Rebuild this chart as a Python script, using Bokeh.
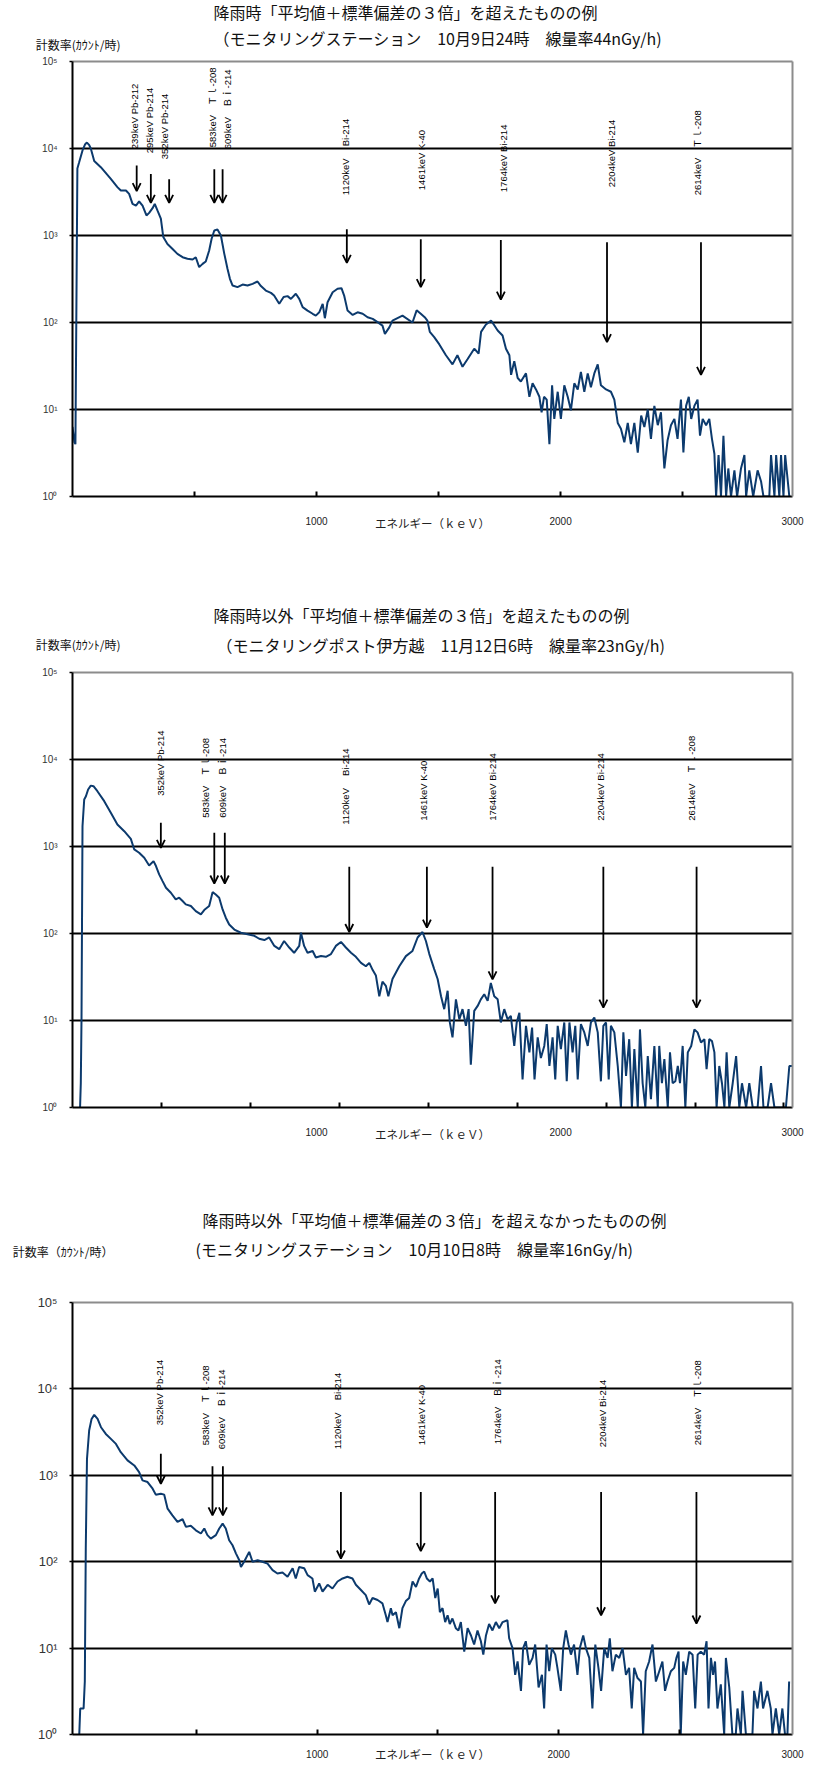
import math
from bokeh.plotting import figure
from bokeh.models import Range1d, FixedTicker, Arrow, OpenHead, ColumnDataSource, LinearAxis
from bokeh.layouts import column
from bokeh.embed import file_html
from bokeh.resources import INLINE
from bokeh.core.properties import value

JP = "Noto Sans CJK JP"
LAT = "Liberation Sans, Noto Sans CJK JP"
NAVY = "#0c3a6d"
GRAY = "#8c8c8c"
BL, BR = 72, 12          # left / right borders shared by every figure of the column

# ---------------- shared axis texts ----------------
x_tick_labels = ["1000", "2000", "3000"]
y_tick_values = [1, 10, 100, 1000, 10000, 100000]
y_tick_labels = ["10⁰", "10¹", "10²", "10³", "10⁴", "10⁵"]
x_axis_title = "エネルギー（ｋｅＶ）"

# ---------------- panel 1 ----------------
title_1 = ["降雨時「平均値＋標準偏差の３倍」を超えたものの例",
           "（モニタリングステーション　10月9日24時　線量率44nGy/h)"]
y_title_1 = "計数率(ｶｳﾝﾄ/時)"
energy_1 = [0, 8, 12, 20, 27, 41, 52, 59, 68, 75, 89, 116, 157, 184, 198, 219, 232, 246, 260, 273,
            287, 303, 314, 328, 337, 348, 362, 372, 389, 410, 430, 451, 471, 492, 505, 519, 533, 546, 560, 570,
            581, 594, 608, 622, 635, 645, 656, 676, 697, 717, 738, 758, 772, 792, 813, 826, 847, 865, 881, 895,
            915, 929, 943, 963, 984, 997, 1011, 1025, 1034, 1045, 1066, 1086, 1102, 1113, 1127, 1148, 1168, 1189, 1209, 1230,
            1250, 1270, 1280, 1298,
            1311, 1352, 1393, 1410, 1427, 1443, 1454, 1464, 1482, 1503, 1530, 1557, 1577, 1598, 1619, 1646, 1664, 1674, 1694, 1715,
            1728, 1742, 1762, 1776, 1790, 1797, 1810, 1824, 1837, 1858, 1872, 1885, 1899, 1913, 1922, 1932, 1943, 1954, 1965, 1974,
            1988, 2001, 2015, 2029, 2042, 2056, 2070, 2083, 2097, 2111, 2124, 2138, 2152, 2165, 2186, 2206, 2220, 2234, 2247, 2261,
            2275, 2288, 2302, 2316, 2330, 2343, 2357, 2370, 2384, 2398, 2411, 2425, 2438, 2452, 2466, 2479, 2493, 2503, 2514, 2525,
            2535, 2548, 2561, 2571, 2582, 2596, 2609, 2620, 2630, 2637, 2647, 2657, 2667, 2678, 2687, 2698, 2712, 2723, 2739, 2753,
            2760, 2773, 2789, 2807, 2821, 2831, 2855, 2862, 2876, 2883, 2896, 2903, 2913, 2920, 2937]
counts_1 = [6.3, 4.2, 4, 5900, 6900, 9500, 11200, 11700, 11000, 10000, 7200, 6100, 4480, 3600, 3290, 3290, 3010, 2310, 2210, 2460,
            2210, 1700, 1820, 2060, 2310, 1940, 1560, 960, 800, 700, 615, 563, 540, 530, 563, 433, 472, 503, 672, 916,
            1140, 1170, 1000, 615, 414, 318, 266, 255, 273, 266, 278, 296, 262, 233, 219, 204, 164, 196, 201, 187,
            214, 187, 150, 137, 126, 120, 131, 164, 112, 171, 223, 244, 248, 204, 137, 122, 131, 126, 115, 110,
            101, 92, 74, 88,
            105, 120, 100, 138, 126, 115, 105, 78, 68, 56, 42, 33, 42, 31, 38, 50, 44, 78, 95, 105,
            93, 81, 71, 50, 42, 25, 36, 23, 21, 26, 14, 20, 17, 14, 9.3, 14, 13, 4, 19, 7.8,
            16, 7.8, 19, 14, 9.8, 20, 17, 27, 16, 26, 18, 26, 33, 19, 17, 16, 13, 7, 6, 4.2,
            7, 4, 7, 3.2, 8.5, 6.3, 10, 4.6, 11, 6.6, 9.3, 2.1, 4.4, 6.6, 7.8, 4.6, 13, 3.2, 11, 14,
            7.8, 11, 13, 5, 7.8, 6.6, 7.8, 4.6, 3.1, 1, 3, 1, 5, 1, 2.1, 1, 2, 1, 2.1, 3,
            1, 2, 1, 2, 1.5, 1, 1, 3, 1, 3, 1, 3, 1, 3, 1]
peak_names_1 = ["239keV Pb-212", "295keV Pb-214", "352keV Pb-214", "583keV　Ｔｌ-208", "609keV　Ｂｉ-214",
                "1120keV　 Bi-214", "1461keV K-40", "1764keV Bi-214", "2204keV Bi-214", "2614keV　Ｔｌ-208"]
peak_x_1 = [263, 321, 396, 581, 615, 1124, 1427, 1755, 2190, 2575]
minor_ticks_1 = [500, 1000, 1500, 2000, 2500]
xmin_1, xmax_1 = 0, 2950
arrow_top_1 = [3.805, 3.708, 3.647, 3.762, 3.762, 3.072, 2.957, 2.949, 2.923, 2.923]
arrow_bot_1 = [3.509, 3.375, 3.375, 3.375, 3.375, 2.685, 2.406, 2.264, 1.774, 1.398]
name_x_1 = [253, 317, 376, 574, 635, 1118, 1430, 1764, 2209, 2561]
name_y_1 = [3.992, 3.946, 3.877, 4.015, 3.992, 3.463, 3.521, 3.498, 3.555, 3.463]

# ---------------- panel 2 ----------------
title_2 = ["降雨時以外「平均値＋標準偏差の３倍」を超えたものの例",
           "（モニタリングポスト伊方越　11月12日6時　線量率23nGy/h)"]
y_title_2 = "計数率(ｶｳﾝﾄ/時)"
energy_2 = [31, 34, 37, 41, 48, 55, 64, 75, 86, 102, 130, 157, 184, 212, 239, 253, 273, 294, 314, 332,
            342, 355, 369, 383, 403, 423, 437, 451, 464, 485, 505, 526, 542, 560, 574, 587, 601, 615, 628, 642,
            663, 690, 717, 745, 765, 786, 806, 827, 847, 867, 888, 908, 929, 936, 949, 963, 984, 997, 1018, 1038,
            1059, 1079, 1100, 1120, 1141, 1161, 1182, 1202, 1216, 1230, 1243, 1257, 1270, 1284, 1294,
            1311, 1339, 1366, 1393, 1414, 1434, 1448, 1462, 1482, 1496, 1510, 1523, 1537, 1546, 1557, 1571, 1585, 1598, 1612, 1623,
            1632, 1646, 1660, 1673, 1687, 1701, 1714, 1728, 1742, 1755, 1769, 1783, 1796, 1810, 1820, 1831, 1844, 1858, 1872, 1883,
            1893, 1906, 1919, 1933, 1943, 1954, 1967, 1978, 1988, 2001, 2015, 2025, 2036, 2049, 2060, 2070, 2083, 2097, 2111, 2124,
            2138, 2152, 2165, 2175, 2186, 2197, 2206, 2220, 2234, 2247, 2257, 2268, 2281, 2292, 2302, 2316, 2325, 2336, 2347, 2357,
            2370, 2384, 2398, 2404, 2415, 2425, 2439, 2448, 2459, 2470, 2480, 2489, 2500, 2511, 2521, 2535, 2548, 2561, 2575, 2589,
            2598, 2609, 2620, 2630, 2639, 2650, 2661, 2671, 2680, 2691, 2705, 2719, 2732, 2743, 2760, 2773, 2787, 2807, 2821, 2831,
            2848, 2862, 2876, 2896, 2910, 2923, 2937, 2948]
counts_2 = [1, 1.9, 11, 1710, 3470, 3780, 4520, 5010, 4930, 4320, 3320, 2440, 1790, 1500, 1225, 925, 847, 741, 606, 679,
            596, 478, 400, 336, 294, 247, 258, 236, 216, 207, 181, 166, 189, 207, 299, 281, 258, 189, 152, 127,
            111, 102, 98, 94, 87, 84, 90, 72, 66, 82, 69, 60, 72, 102, 72, 60, 63, 53, 55, 54,
            58, 72, 80, 69, 60, 54, 46, 42, 46, 38, 33, 19, 28, 25, 19,
            30, 42, 55, 63, 90, 104, 82, 58, 39, 30, 19, 13.5, 22, 9.5, 6.4, 17.5, 10.3, 13.5, 8.7, 13.5,
            3.1, 12.9, 14.7, 17.5, 20, 16.8, 27, 19, 17.5, 9.5, 13.5, 10.3, 11.3, 5.1, 9.5, 12.3, 2.1, 8.7, 4.3, 8.3,
            2.1, 6.4, 3.7, 5.1, 9.1, 3.0, 6.4, 2.1, 8.7, 4.7, 9.5, 2.0, 9.5, 4.3, 8.7, 2.1, 9.1, 7.3, 5.1, 9.5,
            10.8, 7.3, 2.0, 8.7, 9.5, 2.1, 8.7, 7.3, 3.0, 1, 7.3, 2.3, 6.1, 1, 4.7, 1, 7.9, 1.9, 1, 3.9,
            1.25, 5.1, 1, 5.1, 1.9, 3.6, 1, 4.3, 1.9, 2.0, 3.0, 1.9, 5.1, 1, 4.3, 5.1, 7.9, 7.3, 5.6, 6.1,
            2.75, 6.1, 5.8, 4.3, 1, 3.0, 1.9, 1, 4.3, 1, 1.9, 3.9, 1, 1.9, 1, 1.9, 1, 1, 3.0, 1,
            1, 1.9, 1, 1, 1, 1, 3.0, 3.0]
peak_names_2 = ["352keV Pb-214", "583keV　Ｔｌ-208", "609keV　Ｂｉ-214", "1120keV　 Bi-214",
                "1461keV K-40", "1764keV Bi-214", "2204keV Bi-214", "2614keV　Ｔｌ-208"]
peak_x_2 = [362, 581, 624, 1134, 1452, 1721, 2175, 2557]
minor_ticks_2 = [364, 729, 1093, 1458, 1822, 2186, 2551, 2915]
xmin_2, xmax_2 = 0, 2950
arrow_top_2 = [3.272, 3.157, 3.157, 2.767, 2.767, 2.767, 2.767, 2.767]
arrow_bot_2 = [2.985, 2.575, 2.575, 2.017, 2.067, 1.473, 1.148, 1.148]
name_x_2 = [361, 545, 615, 1119, 1439, 1721, 2164, 2537]
name_y_2 = [3.582, 3.330, 3.330, 3.249, 3.295, 3.295, 3.295, 3.295]

# ---------------- panel 3 ----------------
title_3 = ["降雨時以外「平均値＋標準偏差の３倍」を超えなかったものの例",
           "(モニタリングステーション　10月10日8時　線量率16nGy/h)"]
y_title_3 = "計数率（ｶｳﾝﾄ/時）"
energy_3 = [14, 18, 32, 37, 41, 46, 55, 65, 76, 90, 104, 124, 145, 166, 186, 214, 242, 262, 276, 297,
            318, 331, 352, 366, 380, 400, 421, 442, 456, 476, 497, 518, 532, 545, 559, 580, 594, 608, 621, 635,
            649, 663, 677, 684, 697, 718, 732, 753, 773, 794, 815, 835, 856, 877, 898, 911, 925, 946, 960, 980,
            990, 1008, 1022, 1043, 1063, 1084, 1105, 1125, 1146, 1160, 1181, 1201, 1215, 1229, 1250, 1270, 1284, 1291, 1305,
            1312, 1326, 1340, 1353, 1367, 1381, 1395, 1409, 1422, 1433, 1443, 1454, 1467, 1478, 1489, 1499, 1508, 1519, 1530, 1540,
            1549, 1560, 1574, 1585, 1595, 1609, 1623, 1637, 1650, 1664, 1678, 1688, 1699, 1712, 1726, 1740, 1754, 1768, 1788, 1795,
            1809, 1820, 1830, 1844, 1853, 1864, 1878, 1892, 1903, 1917, 1931, 1940, 1950, 1961, 1972, 1986, 1995, 2009, 2019, 2030,
            2041, 2051, 2064, 2078, 2088, 2102, 2113, 2127, 2140, 2152, 2165, 2176, 2189, 2203, 2212, 2223, 2237, 2251, 2265, 2279,
            2292, 2303, 2313, 2327, 2341, 2350, 2361, 2375, 2389, 2403, 2417, 2430, 2441, 2451, 2465, 2479, 2488, 2497, 2506, 2516,
            2527, 2541, 2555, 2566, 2576, 2589, 2603, 2613, 2621, 2631, 2640, 2648, 2658, 2672, 2686, 2693, 2707, 2720, 2734, 2741,
            2755, 2762, 2776, 2790, 2803, 2810, 2824, 2838, 2847, 2865, 2879, 2886, 2900, 2914, 2927, 2938, 2948, 2955]
counts_3 = [1, 2.0, 2.0, 4.1, 142, 1550, 3300, 4490, 5000, 4490, 3600, 3010, 2640, 2310, 1850, 1490, 1300, 1090, 873, 836,
            700, 597, 612, 597, 411, 344, 289, 310, 253, 260, 231, 212, 242, 203, 185, 203, 242, 276, 242, 177,
            155, 125, 104, 87, 100, 130, 100, 104, 100, 95, 80, 73, 75, 67, 84, 64, 87, 84, 70, 64,
            45, 56, 45, 54, 49, 59, 64, 67, 64, 54, 47, 41, 32, 38, 36, 33, 24, 20, 29,
            24, 26, 17, 29, 35, 38, 59, 51, 64, 73, 77, 64, 59, 64, 38, 49, 26, 29, 20, 24,
            19, 22, 17, 16, 20, 9.1, 17, 14, 11, 16, 12, 8.4, 14, 19, 16, 20, 17, 20, 21, 13,
            10, 4.9, 7, 3.2, 10, 12, 6.4, 7.7, 11, 3.5, 4.9, 2.0, 11, 5.4, 10, 8.4, 5.9, 3.2, 10, 16,
            11, 8.4, 11, 4.9, 10, 14, 10, 7.7, 2.0, 11, 5.9, 3.2, 10, 7.7, 13, 5.4, 8.4, 7.7, 10, 4.9,
            5.9, 2.0, 5.9, 4.5, 4.1, 1, 5.4, 7, 11, 4.1, 5.4, 7, 3.2, 4.1, 5.4, 5.9, 7.7, 9.1, 1, 7,
            4.9, 9.1, 8.4, 2.0, 8.4, 9.1, 8.4, 12, 2.0, 7.7, 4.9, 7, 2.0, 3.8, 1, 7.7, 3.5, 1, 1, 2.0,
            1, 3.2, 1, 1, 1, 3.2, 2.0, 4.1, 2.0, 3.2, 2.0, 1, 2.0, 1, 2.0, 1, 1, 4.1]
peak_names_3 = ["352keV Pb-214", "583keV　Ｔｌ-208", "609keV　Ｂｉ-214", "1120keV　 Bi-214",
                "1461keV K-40", "1764keV　Ｂｉ-214", "2204keV Bi-214", "2614keV　Ｔｌ-208"]
peak_x_3 = [352, 566, 609, 1098, 1429, 1737, 2176, 2571]
minor_ticks_3 = [500, 1000, 1500, 2000, 2500]
xmin_3, xmax_3 = -14, 2969
arrow_top_3 = [3.248, 3.106, 3.106, 2.806, 2.806, 2.806, 2.806, 2.806]
arrow_bot_3 = [2.902, 2.537, 2.537, 2.037, 2.122, 1.518, 1.380, 1.285]
name_x_3 = [347, 537, 604, 1084, 1432, 1747, 2182, 2575]
name_y_3 = [3.579, 3.348, 3.302, 3.302, 3.348, 3.360, 3.325, 3.348]

for e, c in ((energy_1, counts_1), (energy_2, counts_2), (energy_3, counts_3)):
    if len(e) != len(c):
        raise SystemExit("length mismatch %d %d" % (len(e), len(c)))


def header(h, items, ylabel, ylabel_y, ylabel_right):
    """Title strip: frame spans x = BL..804-BR so that data x == canvas x."""
    p = figure(width=804, height=h, output_backend="svg", toolbar_location=None, title=None,
               x_range=Range1d(BL, 804 - BR), y_range=Range1d(h, 0),
               x_axis_location=None, y_axis_location="left",
               min_border_left=BL, min_border_right=BR, min_border_top=0, min_border_bottom=0)
    p.outline_line_color = None
    p.grid.visible = False
    ya = p.yaxis[0]
    ya.ticker = FixedTicker(ticks=[ylabel_y])
    ya.major_label_overrides = {ylabel_y: ylabel}
    ya.axis_line_color = None
    ya.major_tick_line_color = None
    ya.minor_tick_line_color = None
    ya.major_tick_out = 0
    ya.major_tick_in = 0
    ya.major_label_standoff = BL - ylabel_right
    ya.major_label_text_font = JP
    ya.major_label_text_font_size = "12px"
    ya.major_label_text_color = "#111111"
    for (x, y, txt, size) in items:
        p.text(x=[x], y=[y], text=[txt], text_font=value(JP), text_font_size=size,
               text_align="left", text_baseline="middle", text_color="#111111")
    return p


def spectrum(height, top, bottom, xmin, xmax, energy, counts, minor_ticks,
             peak_x, arrow_top, arrow_bot, name_x, name_y, names,
             ytick_size, xstandoff, xlab_standoff):
    p = figure(width=804, height=height, output_backend="svg", toolbar_location=None, title=None,
               x_range=Range1d(xmin, xmax), y_range=Range1d(1, 1e5), y_axis_type="log",
               min_border_left=BL, min_border_right=BR,
               min_border_top=top, min_border_bottom=bottom)
    p.outline_line_color = None
    p.xgrid.visible = False
    p.ygrid.ticker = FixedTicker(ticks=y_tick_values[1:-1])
    p.ygrid.grid_line_color = "black"
    p.ygrid.grid_line_width = 2

    x_ticks = [1000, 2000, xmax]
    xa = p.xaxis[0]
    xa.ticker = FixedTicker(ticks=x_ticks, minor_ticks=minor_ticks)
    xa.major_label_overrides = dict(zip(x_ticks, x_tick_labels))
    xa.axis_line_color = "black"
    xa.axis_line_width = 2
    xa.major_tick_in = 0
    xa.major_tick_out = 0
    xa.minor_tick_in = 5
    xa.minor_tick_out = 0
    xa.minor_tick_line_color = "black"
    xa.minor_tick_line_width = 2
    xa.major_label_standoff = xstandoff
    xa.major_label_text_font = "Liberation Sans"
    xa.major_label_text_font_size = "10px"
    xa.major_label_text_color = "#222222"
    xa.axis_label = x_axis_title
    xa.axis_label_text_font = LAT
    xa.axis_label_text_font_size = "11.5px"
    xa.axis_label_text_font_style = "normal"
    xa.axis_label_text_color = "#222222"
    xa.axis_label_standoff = xlab_standoff

    ya = p.yaxis[0]
    ya.ticker = FixedTicker(ticks=y_tick_values)
    ya.major_label_overrides = dict(zip(y_tick_values, y_tick_labels))
    ya.axis_line_color = "black"
    ya.axis_line_width = 2
    ya.major_tick_in = 0
    ya.major_tick_out = 3
    ya.major_tick_line_width = 1.5
    ya.minor_tick_line_color = None
    ya.major_label_standoff = 12
    ya.major_label_text_font = "Liberation Sans"
    ya.major_label_text_font_size = ytick_size
    ya.major_label_text_color = "#333333"

    # grey frame on top and right
    for place in ("above", "right"):
        ax = LinearAxis(ticker=FixedTicker(ticks=[]), axis_line_color=GRAY, axis_line_width=2,
                        major_tick_out=0, major_tick_in=0, minor_tick_out=0, minor_tick_in=0,
                        major_label_standoff=0, major_label_text_font_size="0px")
        p.add_layout(ax, place)

    p.line(energy, counts, line_color=NAVY, line_width=2)

    src = ColumnDataSource(dict(x=peak_x, y0=[10 ** v for v in arrow_top], y1=[10 ** v for v in arrow_bot]))
    p.add_layout(Arrow(end=OpenHead(size=8, line_width=1.8, line_color="black"),
                       line_color="black", line_width=1.8,
                       x_start="x", y_start="y0", x_end="x", y_end="y1", source=src))
    p.text(x=name_x, y=[10 ** v for v in name_y], text=names, angle=math.pi / 2,
           text_align="left", text_baseline="middle", text_font=value(LAT),
           text_font_size="9.5px", text_color="black")
    return p


h1 = header(54, [(213, 11, title_1[0], "16px"), (213, 37, title_1[1], "16px")], y_title_1, 44, 120)
p1 = spectrum(538, 7, 96, xmin_1, xmax_1, energy_1, counts_1, minor_ticks_1,
              peak_x_1, arrow_top_1, arrow_bot_1, name_x_1, name_y_1, peak_names_1, "10px", 20, -10)
h2 = header(73, [(213, 22, title_2[0], "16px"), (216, 52, title_2[1], "16px")], y_title_2, 52, 120)
p2 = spectrum(540, 7, 98, xmin_2, xmax_2, energy_2, counts_2, minor_ticks_2,
              peak_x_2, arrow_top_2, arrow_bot_2, name_x_2, name_y_2, peak_names_2, "10px", 20, -10)
h3 = header(86, [(202, 14, title_3[0], "16px"), (195, 43, title_3[1], "16px")], y_title_3, 46, 113)
p3 = spectrum(472, 11, 28, xmin_3, xmax_3, energy_3, counts_3, minor_ticks_3,
              peak_x_3, arrow_top_3, arrow_bot_3, name_x_3, name_y_3, peak_names_3, "13px", 15, -12)

page = column(h1, p1, h2, p2, h3, p3)
open("out.html", "w").write(file_html(page, INLINE, "spectra"))
